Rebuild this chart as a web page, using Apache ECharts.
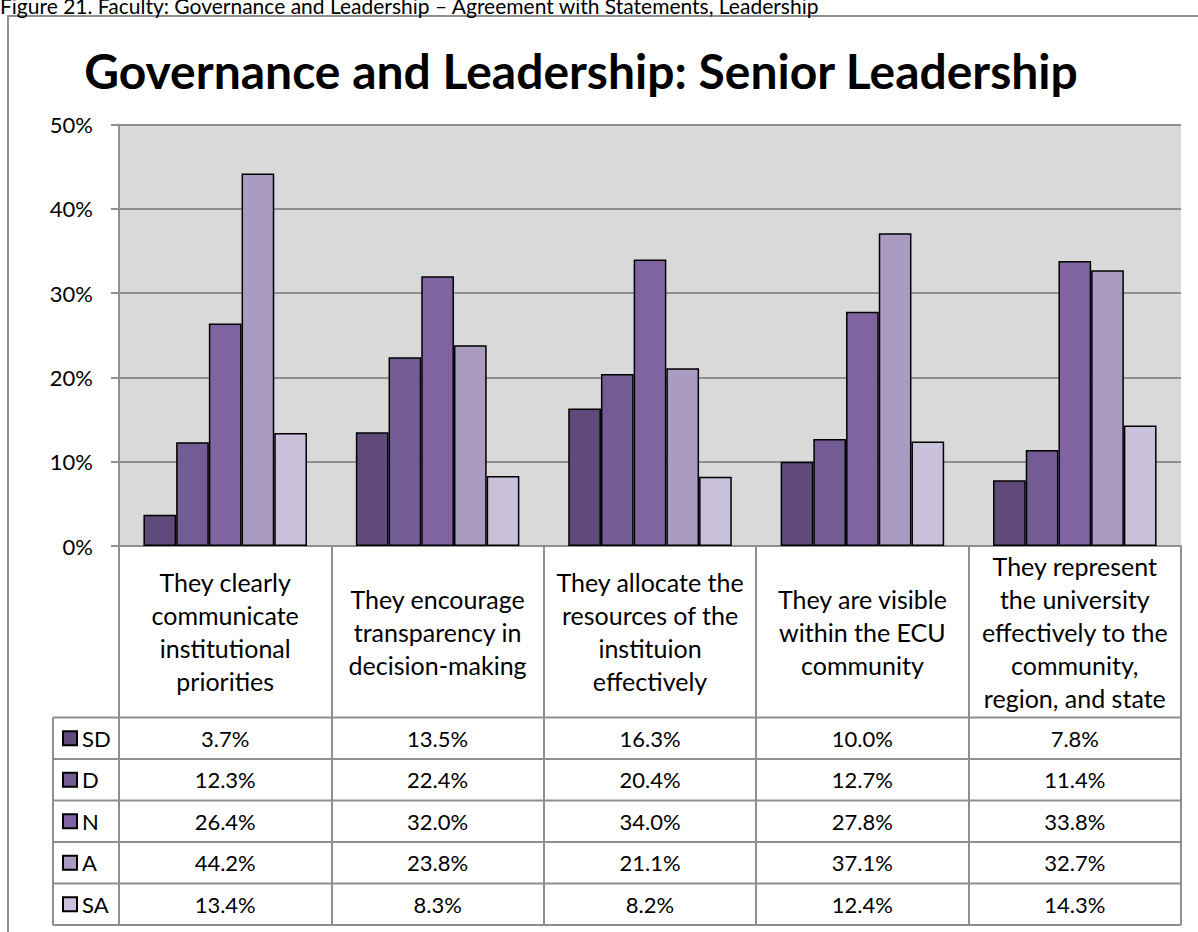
<!DOCTYPE html>
<html>
<head>
<meta charset="utf-8">
<title>Governance and Leadership: Senior Leadership</title>
<script src="https://cdn.jsdelivr.net/npm/echarts@6/dist/echarts.min.js"></script>
<style>
html, body { margin: 0; padding: 0; background: #fff; }
#chart { width: 1198px; height: 932px; }
</style>
</head>
<body>
<div id="chart"></div>
<script>
// category labels, wrapped as in the data table header
var categories = [
	'They clearly\ncommunicate\ninstitutional\npriorities',
	'They encourage\ntransparency in\ndecision-making',
	'They allocate the\nresources of the\ninstituion\neffectively',
	'They are visible\nwithin the ECU\ncommunity',
	'They represent\nthe university\neffectively to the\ncommunity,\nregion, and state'
];
var seriesNames = ['SD', 'D', 'N', 'A', 'SA'];
var valSD = [3.7, 13.5, 16.3, 10.0, 7.8];
var valD = [12.3, 22.4, 20.4, 12.7, 11.4];
var valN = [26.4, 32.0, 34.0, 27.8, 33.8];
var valA = [44.2, 23.8, 21.1, 37.1, 32.7];
var valSA = [13.4, 8.3, 8.2, 12.4, 14.3];
var yTicks = [0, 10, 20, 30, 40, 50];

var rows = [valSD, valD, valN, valA, valSA];
var colors = ['#604a7b', '#735b93', '#8064a2', '#aa9bc1', '#c9c0da'];

var font = 'Lato';
var plotTop = 124.5, plotBottom = 546, plotLeft = 119, plotRight = 1181;
var headerBottom = 717.5, rowH = 41.5, tableLeft = 53;
var lineGray = '#8f8f8f';

function echartsChart() {
	var myChart = echarts.init(document.getElementById('chart'), null, { renderer: 'svg' });
	var tableBottom = headerBottom + rowH * rows.length;

	// main category axis: header labels + vertical table lines (ticks)
	var xAxes = [{
		type: 'category',
		data: categories,
		position: 'bottom',
		axisLine: { show: true, lineStyle: { color: lineGray, width: 2 } },
		axisTick: { show: true, length: tableBottom - plotBottom, lineStyle: { color: lineGray, width: 2 } },
		axisLabel: {
			interval: 0,
			color: '#000',
			fontFamily: font,
			fontSize: 25,
			lineHeight: 33,
			margin: (headerBottom - plotBottom) / 2,
			verticalAlign: 'middle',
			align: 'center'
		}
	}];
	// one hidden axis per table row, its labels are the values
	rows.forEach(function(vals, i) {
		xAxes.push({
			type: 'category',
			data: categories,
			position: 'bottom',
			offset: headerBottom - plotBottom + rowH * i + rowH / 2,
			axisLine: { show: false },
			axisTick: { show: false },
			splitLine: { show: false },
			axisLabel: {
				interval: 0,
				margin: 0,
				verticalAlign: 'middle',
				color: '#000',
				fontFamily: font,
				fontSize: 22,
				formatter: function(v, idx) {
					return vals[idx].toFixed(1) + '%';
				}
			}
		});
	});

	var graphics = [{
		type: 'polyline',
		shape: { points: [[8, 932], [8, 16], [1198, 16]] },
		style: { stroke: lineGray, lineWidth: 2, fill: null }
	}, {
		type: 'text',
		x: 0, y: 16,
		style: {
			text: 'Figure 21. Faculty: Governance and Leadership \u2013 Agreement with Statements, Leadership',
			font: '21px ' + font,
			fill: '#000',
			verticalAlign: 'bottom'
		}
	}, {
		type: 'text',
		x: 581, y: 70,
		style: {
			text: 'Governance and Leadership: Senior Leadership',
			font: 'bold 48px ' + font,
			fill: '#000',
			align: 'center',
			verticalAlign: 'middle'
		}
	}, {
		type: 'line',
		shape: { x1: tableLeft, y1: headerBottom, x2: tableLeft, y2: tableBottom },
		style: { stroke: lineGray, lineWidth: 2 }
	}];
	for (var k = 0; k <= rows.length; k++) {
		graphics.push({
			type: 'line',
			shape: { x1: tableLeft, y1: headerBottom + rowH * k, x2: plotRight, y2: headerBottom + rowH * k },
			style: { stroke: lineGray, lineWidth: 2 }
		});
	}

	var option = {
		backgroundColor: '#fff',
		animation: false,
		grid: {
			left: plotLeft,
			top: plotTop,
			width: plotRight - plotLeft,
			height: plotBottom - plotTop,
			show: true,
			backgroundColor: '#d9d9d9',
			borderWidth: 0,
			outerBoundsMode: 'none'
		},
		legend: {
			orient: 'vertical',
			left: 62,
			top: headerBottom,
			padding: 0,
			itemGap: 0,
			itemWidth: 14,
			itemHeight: 14,
			icon: 'rect',
			selectedMode: false,
			textStyle: { fontFamily: font, fontSize: 22, color: '#000', lineHeight: rowH },
			data: seriesNames
		},
		xAxis: xAxes,
		yAxis: {
			type: 'value',
			min: yTicks[0],
			max: yTicks[yTicks.length - 1],
			interval: yTicks[1] - yTicks[0],
			axisLine: { show: true, lineStyle: { color: lineGray, width: 2 } },
			axisTick: { show: true, length: 8, lineStyle: { color: lineGray, width: 2 } },
			splitLine: { lineStyle: { color: lineGray, width: 2 } },
			axisLabel: { formatter: '{value}%', color: '#000', fontFamily: font, fontSize: 22, margin: 26 }
		},
		graphic: graphics,
		series: rows.map(function(vals, i) {
			return {
				name: seriesNames[i],
				type: 'bar',
				data: vals,
				barGap: '0%',
				barCategoryGap: '23%',
				itemStyle: { color: colors[i], borderColor: '#000', borderWidth: 1.5 }
			};
		})
	};
	myChart.setOption(option);
}

echartsChart();
</script>
</body>
</html>
